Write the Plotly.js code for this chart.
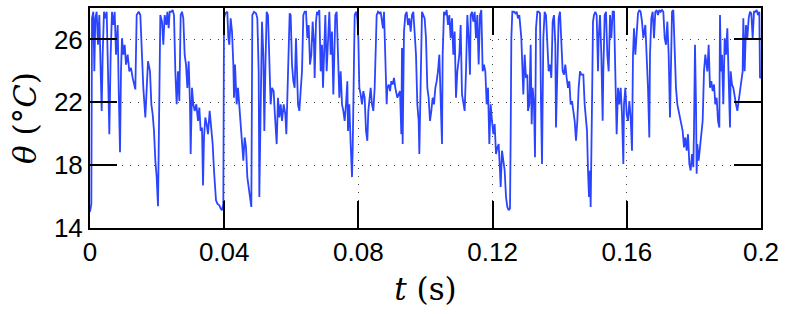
<!DOCTYPE html>
<html>
<head>
<meta charset="utf-8">
<script src="https://cdn.plot.ly/plotly-3.0.1.min.js"></script>
<style>
html, body { margin: 0; padding: 0; background: #ffffff; }
#chart { width: 789px; height: 314px; }
</style>
</head>
<body>
<div id="chart"></div>
<script>
// Time samples (s)
const time_s = [
0, 0.000398, 0.000596, 0.000994, 0.001292, 0.001590, 0.001987, 0.002385, 0.002782, 0.003180, 0.003478, 0.003776, 0.004173, 0.004570, 0.004968, 0.005365, 0.005763, 0.006160, 0.006557, 0.006955, 0.007352, 0.007750, 0.008247, 0.008545, 0.008942, 0.009240, 0.009538, 0.009936, 0.010333, 0.010730, 0.011227, 0.011724, 0.012221, 0.012717, 0.013214, 0.013512, 0.013910, 0.014506, 0.015003, 0.015499, 0.015897, 0.016493, 0.016890, 0.017288,
0.017884, 0.018282, 0.018679, 0.019076, 0.019474, 0.019871, 0.020269, 0.020666, 0.020964, 0.021461, 0.021858, 0.022256, 0.022752, 0.023050, 0.023448, 0.023746, 0.024243, 0.024640, 0.025037, 0.025435, 0.025832, 0.026230, 0.026627, 0.027025, 0.027422, 0.027819, 0.028217, 0.028614, 0.029012, 0.029409, 0.029806, 0.030005, 0.030403, 0.030800, 0.031197, 0.031694, 0.032191, 0.032588, 0.032986, 0.033383, 0.033681, 0.033979, 0.034377, 0.034774, 0.035172, 0.035668,
0.036164, 0.036562, 0.036959, 0.037257, 0.037555, 0.037953, 0.038549, 0.038946, 0.039344, 0.039741, 0.039940, 0.040337, 0.040933, 0.041231, 0.041529, 0.041927, 0.042324, 0.042722, 0.042920, 0.043218, 0.043516, 0.043715, 0.044113, 0.044510, 0.044907, 0.045305, 0.045702, 0.046100, 0.046497, 0.046895, 0.047292, 0.047689, 0.048087, 0.048385, 0.048882, 0.049478, 0.049875, 0.050273, 0.050471, 0.050869, 0.051266, 0.051664, 0.051962, 0.052260, 0.052657, 0.053055, 0.053452, 0.053849, 0.054247,
0.054744, 0.055042, 0.055439, 0.055638, 0.056036, 0.056433, 0.056830, 0.057228, 0.057724, 0.058221, 0.058519, 0.058817, 0.059215, 0.059513, 0.059811, 0.060208, 0.060606, 0.061003, 0.061400, 0.061698, 0.061996, 0.062394, 0.062791, 0.063189, 0.063586, 0.063984, 0.064381, 0.064778, 0.065176, 0.065573, 0.065971, 0.066368, 0.066765, 0.066964, 0.067362, 0.067660, 0.067958, 0.068355, 0.068753, 0.069150, 0.069448, 0.069746, 0.070144, 0.070541, 0.070938, 0.071336, 0.071733, 0.072131, 0.072528,
0.073124, 0.073522, 0.073919, 0.074317, 0.074714, 0.075111, 0.075509, 0.075906, 0.076304, 0.076701, 0.076900, 0.077297, 0.077695, 0.078092, 0.078291, 0.078688, 0.078887, 0.079284, 0.079682, 0.079980, 0.080278, 0.080675, 0.081073, 0.081470, 0.081867, 0.082265, 0.082662, 0.082960, 0.083258, 0.083656, 0.084053, 0.084451, 0.084848, 0.085146, 0.085444, 0.085842, 0.086239, 0.086636, 0.087034, 0.087332, 0.087630, 0.088027, 0.088425, 0.088623, 0.089021, 0.089418, 0.089816, 0.090213, 0.090610, 0.091008,
0.091603, 0.092001, 0.092398, 0.092796, 0.092994, 0.093193, 0.093590, 0.093988, 0.094385, 0.094783, 0.095180, 0.095577, 0.095975, 0.096372, 0.096770, 0.097167, 0.097565, 0.097962, 0.098161, 0.098359, 0.098757, 0.098955, 0.099353, 0.099750, 0.100148, 0.100545, 0.100942, 0.101340, 0.101737, 0.102135, 0.102532, 0.102929, 0.103327, 0.103724, 0.104122, 0.104519, 0.104917, 0.105115, 0.105513, 0.105910, 0.106308, 0.106705, 0.107102, 0.107500, 0.107897, 0.108295, 0.108692, 0.109090, 0.109487,
0.110083, 0.110481, 0.110878, 0.111276, 0.111673, 0.112070, 0.112468, 0.112865, 0.113263, 0.113461, 0.113859, 0.114256, 0.114654, 0.115051, 0.115448, 0.115846, 0.116243, 0.116641, 0.117038, 0.117435, 0.117833, 0.118230, 0.118628, 0.119025, 0.119423, 0.119820, 0.120217, 0.120615, 0.121012, 0.121410, 0.121807, 0.122204, 0.122403, 0.122801, 0.123198, 0.123596, 0.123993, 0.124390, 0.124788, 0.125185, 0.125384, 0.125583, 0.125881, 0.126377, 0.126775, 0.127172, 0.127570, 0.127967,
0.128563, 0.128961, 0.129159, 0.129557, 0.129954, 0.130352, 0.130550, 0.130948, 0.131345, 0.131643, 0.131941, 0.132339, 0.132637, 0.132935, 0.133332, 0.133730, 0.134127, 0.134425, 0.134723, 0.135121, 0.135518, 0.135915, 0.136313, 0.136710, 0.137108, 0.137505, 0.137903, 0.138300, 0.138697, 0.138896, 0.139294, 0.139691, 0.140088, 0.140486, 0.140883, 0.141281, 0.141678, 0.142075, 0.142473, 0.142870, 0.143268, 0.143665, 0.144063, 0.144460, 0.144857, 0.145255, 0.145652, 0.146050, 0.146447,
0.147043, 0.147441, 0.147838, 0.148136, 0.148434, 0.148732, 0.149030, 0.149229, 0.149627, 0.149925, 0.150223, 0.150620, 0.151018, 0.151415, 0.151614, 0.152011, 0.152408, 0.152806, 0.153005, 0.153402, 0.153799, 0.154197, 0.154594, 0.154992, 0.155389, 0.155786, 0.156184, 0.156581, 0.156979, 0.157376, 0.157774, 0.158171, 0.158568, 0.158966, 0.159164, 0.159562, 0.159959, 0.160357, 0.160754, 0.161152, 0.161549, 0.161847, 0.162145, 0.162543, 0.162940, 0.163337, 0.163735, 0.164132, 0.164530, 0.164927,
0.165522, 0.165920, 0.166317, 0.166715, 0.166913, 0.167311, 0.167708, 0.168106, 0.168503, 0.168900, 0.169298, 0.169695, 0.170093, 0.170490, 0.170887, 0.171285, 0.171682, 0.172080, 0.172477, 0.172875, 0.173073, 0.173471, 0.173868, 0.174266, 0.174663, 0.175060, 0.175458, 0.175855, 0.176253, 0.176650, 0.177047, 0.177445, 0.177842, 0.178240, 0.178637, 0.179035, 0.179432, 0.179829, 0.180028, 0.180326, 0.180624, 0.180823, 0.181021, 0.181419, 0.181816, 0.182214, 0.182611, 0.183009, 0.183406,
0.184002, 0.184400, 0.184797, 0.185195, 0.185592, 0.185990, 0.186387, 0.186784, 0.187182, 0.187579, 0.187778, 0.188076, 0.188374, 0.188772, 0.189169, 0.189567, 0.189964, 0.190361, 0.190759, 0.190957, 0.191355, 0.191752, 0.192150, 0.192547, 0.192944, 0.193342, 0.193739, 0.194137, 0.194534, 0.194733, 0.195131, 0.195528, 0.195925, 0.196323, 0.196720, 0.197118, 0.197515, 0.197913, 0.198310, 0.198707, 0.199105, 0.199502, 0.199701, 0.2
];

// Temperature theta (deg C)
const theta_C = [
15.03, 15.55, 27.34, 27.76, 23.97, 27.34, 27.76, 25.66, 27.55, 23.97, 21.45, 25.03, 27.76, 27.34, 27.76, 23.97, 19.97, 25.03, 27.76, 26.92, 27.76, 25.03, 26.92, 22.92, 18.82, 23.97, 26.08, 25.03, 25.66, 24.40, 25.03, 23.97, 24.19, 23.55, 23.13, 22.82, 27.55, 27.76, 27.55, 25.03, 22.92, 21.03, 23.34, 24.61,
23.97, 21.87, 21.24, 20.18, 18.29, 17.24, 15.38, 21.87, 27.55, 27.13, 25.66, 27.55, 26.92, 27.76, 26.71, 27.76, 27.76, 27.87, 27.55, 23.97, 21.87, 23.97, 22.08, 27.55, 27.76, 27.34, 25.03, 24.40, 22.92, 24.61, 21.87, 18.71, 22.92, 21.87, 21.45, 21.87, 20.82, 21.66, 20.18, 20.39, 16.71, 19.76, 21.03, 20.61, 19.97, 21.45,
20.18, 19.34, 17.66, 16.40, 15.76, 15.55, 15.45, 15.24, 15.13, 15.55, 27.34, 27.66, 27.76, 26.08, 25.66, 27.34, 26.50, 24.40, 22.29, 24.40, 22.92, 21.87, 22.92, 21.66, 20.82, 19.34, 18.29, 19.76, 19.13, 17.24, 16.40, 15.97, 15.34, 27.55, 27.76, 27.66, 27.34, 23.97, 15.97, 21.87, 27.13, 25.03, 20.18, 23.97, 27.76, 27.55, 23.97, 21.87, 22.92,
22.71, 21.45, 19.76, 19.34, 22.29, 21.03, 21.87, 20.82, 21.87, 21.24, 19.97, 21.87, 25.03, 27.66, 27.55, 24.40, 23.34, 22.92, 26.08, 22.92, 21.87, 21.45, 22.92, 23.97, 27.55, 27.76, 27.76, 26.08, 26.92, 24.40, 25.03, 27.13, 25.66, 23.55, 27.13, 27.76, 27.55, 27.87, 23.97, 25.66, 22.92, 25.03, 27.55, 23.97, 26.08, 27.76, 25.03, 26.50, 22.50,
27.55, 27.76, 25.03, 22.29, 23.97, 21.87, 21.45, 20.82, 21.87, 23.34, 20.18, 21.87, 19.34, 17.24, 18.92, 26.08, 27.55, 27.76, 27.34, 26.08, 22.92, 22.50, 21.87, 22.71, 22.29, 20.18, 19.55, 21.45, 22.29, 22.92, 21.87, 21.45, 22.92, 25.03, 27.55, 27.76, 27.66, 27.76, 27.13, 26.71, 27.76, 23.97, 21.87, 22.92, 23.13, 22.71, 23.34, 23.13, 23.55, 22.92,
22.29, 22.50, 22.71, 19.97, 25.45, 19.34, 26.50, 27.55, 27.76, 26.92, 27.34, 26.50, 27.55, 27.76, 26.08, 25.03, 21.87, 20.82, 18.71, 20.82, 23.97, 27.76, 27.55, 27.34, 26.08, 22.92, 22.29, 20.82, 21.45, 22.29, 21.87, 22.92, 23.34, 23.97, 25.03, 21.87, 19.34, 25.03, 27.76, 27.55, 27.87, 26.92, 27.55, 26.08, 27.34, 25.03, 26.50, 22.29, 23.97,
25.03, 26.92, 22.50, 22.08, 21.45, 23.97, 27.55, 26.08, 23.76, 27.55, 27.76, 27.13, 27.76, 26.08, 27.55, 24.40, 27.55, 27.87, 23.97, 24.40, 23.97, 21.87, 22.92, 19.34, 21.87, 20.82, 19.97, 20.61, 18.71, 19.13, 19.34, 17.66, 16.61, 18.92, 18.08, 17.66, 15.97, 15.34, 15.13, 15.24, 19.76, 26.08, 27.76, 27.76, 27.66, 27.76, 27.34, 27.55,
26.08, 23.34, 22.50, 25.03, 23.55, 23.76, 21.45, 21.87, 25.66, 20.61, 22.92, 21.87, 18.50, 26.71, 27.76, 27.76, 27.66, 21.87, 18.08, 26.08, 27.76, 27.55, 26.08, 23.97, 24.40, 23.55, 27.13, 27.55, 25.66, 20.39, 23.97, 27.34, 27.76, 26.08, 23.97, 23.76, 24.40, 23.55, 22.92, 23.34, 21.87, 22.08, 21.45, 20.82, 19.55, 20.82, 22.92, 23.97, 23.76,
23.76, 21.87, 20.82, 20.18, 17.66, 15.97, 17.66, 15.34, 21.87, 27.13, 27.55, 27.76, 27.55, 23.97, 26.08, 27.55, 25.03, 20.82, 23.97, 27.55, 27.76, 25.03, 23.97, 27.55, 26.08, 27.76, 27.76, 23.97, 19.97, 22.92, 21.87, 22.92, 21.24, 18.08, 21.87, 22.92, 21.24, 20.82, 22.08, 21.03, 18.92, 25.03, 26.71, 25.03, 26.08, 27.66, 27.87, 27.76, 27.13, 26.08,
26.92, 25.03, 22.92, 19.76, 25.03, 27.34, 27.76, 26.08, 27.76, 27.87, 27.55, 27.87, 27.76, 27.87, 27.76, 26.08, 25.66, 27.13, 25.03, 21.03, 23.97, 27.76, 27.87, 25.03, 22.92, 21.87, 21.45, 21.24, 20.82, 20.18, 19.13, 19.76, 18.92, 19.97, 18.08, 17.66, 18.71, 17.87, 20.18, 25.66, 21.87, 17.45, 19.34, 18.29, 19.13, 20.18, 20.82, 23.97, 25.03,
23.97, 25.66, 22.92, 23.34, 22.71, 23.13, 21.87, 22.29, 20.82, 20.39, 27.55, 23.97, 25.03, 21.87, 26.08, 25.03, 26.71, 23.97, 20.39, 23.97, 23.13, 22.92, 22.29, 21.87, 21.45, 22.29, 22.71, 23.34, 23.97, 27.34, 23.97, 26.92, 26.08, 27.34, 27.76, 27.66, 26.08, 27.76, 27.76, 27.87, 27.55, 27.76, 23.55, 23.6
];

const xTickVals = [0, 0.04, 0.08, 0.12, 0.16, 0.2];
const xTickText = ['0', '0.04', '0.08', '0.12', '0.16', '0.2'];
const yTickVals = [14, 18, 22, 26];
const yTickText = ['14', '18', '22', '26'];

const tickFont = { family: 'Liberation Sans, Arial, sans-serif', size: 26, color: '#000000' };
const titleFont = { family: 'DejaVu Serif, Liberation Serif, serif', size: 31, color: '#000000' };

const axisCommon = {
  ticks: 'inside', ticklen: 27, tickwidth: 2, tickcolor: '#000000',
  showline: true, linecolor: '#000000', linewidth: 2, mirror: 'allticks',
  showgrid: true, gridcolor: '#444444', gridwidth: 1, griddash: '1px,7px',
  zeroline: false, tickfont: tickFont
};

Plotly.newPlot('chart', [{
  x: time_s, y: theta_C, type: 'scatter', mode: 'lines',
  line: { color: '#2b45ff', width: 1.8 }, hoverinfo: 'skip'
}], {
  width: 789, height: 314,
  margin: { l: 90, r: 28, t: 8, b: 86, pad: 0 },
  paper_bgcolor: '#ffffff', plot_bgcolor: '#ffffff',
  showlegend: false,
  xaxis: Object.assign({}, axisCommon, {
    range: [0, 0.2], tickmode: 'array', tickvals: xTickVals, ticktext: xTickText,
    title: { text: '<i>t</i> (s)', font: titleFont, standoff: 12 }
  }),
  yaxis: Object.assign({}, axisCommon, {
    range: [14, 28], tickmode: 'array', tickvals: yTickVals, ticktext: yTickText,
    title: { text: '<i>θ</i> (°<i>C</i>)', font: titleFont, standoff: 8 }
  })
}, { staticPlot: true });
</script>
</body>
</html>
